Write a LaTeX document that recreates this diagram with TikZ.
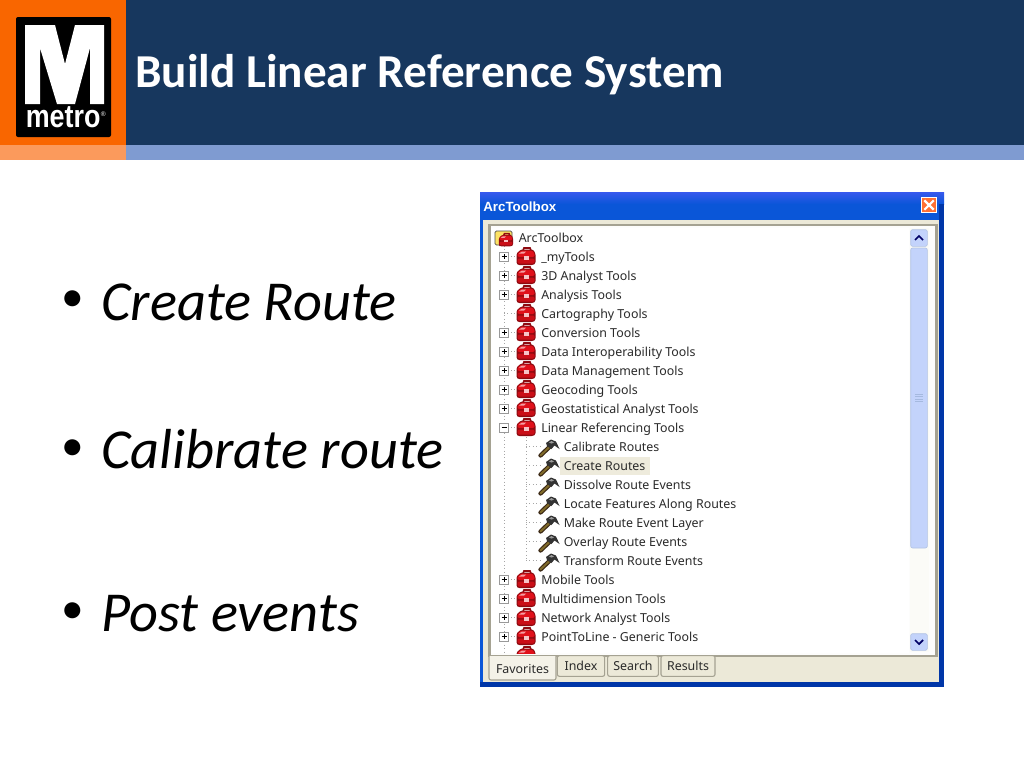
\documentclass[tikz,border=0pt]{standalone}
\usepackage{fontspec}
\usepackage{graphicx}
\usetikzlibrary{calc}
\setmainfont{Carlito}
\newfontfamily\uifont{Noto Sans}
\newfontfamily\logofont{Liberation Sans}
\definecolor{navy}{HTML}{17375E}
\definecolor{orangeM}{HTML}{F96600}
\definecolor{orangeL}{HTML}{FB9A5C}
\definecolor{blueL}{HTML}{7F9BD1}
\definecolor{winblue}{HTML}{0A56D8}
\definecolor{windark}{HTML}{0036A8}
\definecolor{winface}{HTML}{ECE9D8}
\definecolor{frameg}{HTML}{A5A292}
\definecolor{uitext}{HTML}{2A2A2A}
\definecolor{sbar}{HTML}{C3D3FB}
\definecolor{boxred}{HTML}{E0101A}
\definecolor{boxdark}{HTML}{8E0A10}
\definecolor{handlelight}{HTML}{7F6A2A}
\tikzset{
  x=0.75pt,y=-0.75pt,
  bullettext/.style={anchor=base west,inner sep=0pt,font=\fontsize{42.3}{50}\selectfont\itshape,text=black},
  bulletdot/.style={anchor=base west,inner sep=0pt,font=\fontsize{34}{40}\selectfont,text=black},
  treeitem/.style={anchor=west,inner sep=0pt,text height=9.5pt,text depth=2.2pt,font=\uifont\fontsize{9.3}{11}\selectfont,text=uitext},
  expander/.style={draw=gray!80,fill=white,line width=.5pt,minimum size=6.5pt,inner sep=0pt,rectangle},
  treeline/.style={draw=gray!70,dotted,line width=.6pt},
  tabbox/.style={fill=winface,draw=frameg,line width=.8pt,rounded corners=1.5pt},
  tablabel/.style={inner sep=0pt,font=\uifont\fontsize{9.3}{11}\selectfont,text=uitext},
  toolbox/.pic={
    \draw[boxdark,line width=1.2pt] (-3,-6) -- (-2,-8.5) -- (4,-8.5) -- (5,-6);
    \fill[boxdark,rounded corners=1pt] (-9.5,-3) -- (-5,-7) -- (7,-7) -- (9.5,-3) -- (9.5,7) -- (7,8.5) -- (-8,8.5) -- (-9.5,7) -- cycle;
    \fill[boxred,rounded corners=1pt] (-8.5,-3) -- (-4.5,-6) -- (6,-6) -- (8.5,-3) -- (8.5,0.5) -- (-8.5,0.5) -- cycle;
    \fill[boxred!90!black,rounded corners=1pt] (-8.5,2) rectangle (8.5,7);
    \fill[white!60!boxred] (-7,-3) -- (-4,-5) -- (0,-5) -- (-2,-3) -- cycle;
    \fill[white!75!boxred] (-2.5,-0.5) rectangle (2.5,3);
  },
  hammer/.pic={
    \draw[black!70!brown,line width=3.2pt,line cap=round] (-7.5,9) -- (3,-1);
    \draw[handlelight,line width=1.5pt,line cap=round] (-7.5,9) -- (3,-1);
    \fill[black!80] (-2,-3.5) -- (3,-7) -- (8,-5) -- (11.5,2.5) -- (6.5,-1) -- (3.5,2.5) -- (-1,-0.5) -- cycle;
    \fill[black!40] (1,-4) -- (3.5,-5.5) -- (6,-4) -- (3.5,-3) -- cycle;
  },
}
\newcommand{\toprow}[4]{% name, y, text, expander
  \node[treeitem] (t#1) at (541,#2) {#3};
  \coordinate (c#1) at (504,#2);
  \coordinate (i#1) at (518,#2);
  \draw[treeline] (c#1) -- (i#1);
  \pic at (526,#2) {toolbox};
  \ifnum#4=1 \node[expander] (x#1) at (504,#2) {}; \draw[black,line width=.5pt] (501.5,#2) -- (506.5,#2) (504,#2-2.5) -- (504,#2+2.5);
  \else\ifnum#4=2 \node[expander] (x#1) at (504,#2) {}; \draw[black,line width=.5pt] (501.5,#2) -- (506.5,#2);
  \fi\fi
}
\newcommand{\childrow}[3]{% name, y, text
  \node[treeitem] (k#1) at (563.5,#2) {#3};
  \coordinate (d#1) at (526,#2);
  \coordinate (h#1) at (540,#2);
  \draw[treeline] (d#1) -- (h#1);
  \pic at (548,#2) {hammer};
}
\begin{document}
\begin{tikzpicture}
\useasboundingbox (0,0) rectangle (1024,768);
\fill[white] (0,0) rectangle (1024,768);
% header
\fill[navy] (126,0) rectangle (1024,145);
\fill[blueL] (126,145) rectangle (1024,160);
\fill[orangeM] (0,0) rectangle (126,145);
\fill[orangeL] (0,145) rectangle (126,160);
\fill[black,rounded corners=1.5pt] (16,17) rectangle (111,137);
\fill[white] (25,25) -- (55,25) -- (65,64) -- (75,25) -- (104,25) -- (104,104) -- (90,104) -- (90,48) -- (75,104) -- (57,104) -- (40,48) -- (40,104) -- (25,104) -- cycle;
\node[anchor=base west,inner sep=0pt,text=white,font=\logofont\bfseries\fontsize{24}{26}\selectfont] (logotext) at (25.5,127) {\scalebox{.84}[1]{metro}};
\node[anchor=base west,inner sep=0pt,text=white,font=\logofont\fontsize{5}{6}\selectfont] (logomark) at (100.5,116) {®};
\node[anchor=base west,inner sep=0pt,text=white,font=\bfseries\fontsize{35.4}{42}\selectfont] (title) at (135,87) {Build Linear Reference System};
% bullets
\node[bulletdot] (b1) at (61,311) {•};
\node[bullettext] (t1b) at (101,320) {Create Route};
\node[bulletdot] (b2) at (61,460) {•};
\node[bullettext] (t2b) at (101,468) {Calibrate route};
\node[bulletdot] (b3) at (61,623) {•};
\node[bullettext] (t3b) at (101,631) {Post events};
% window
\fill[winblue] (480,192) rectangle (944,687);
\shade[top color=blue!45!winblue!80!white,bottom color=winblue] (480,192) rectangle (944,204);
\fill[windark] (939,204) rectangle (944,687);
\fill[windark] (480,682) rectangle (944,687);
\fill[winface] (483,220) rectangle (939,682);
\fill[frameg] (488,223.5) rectangle (938,657);
\fill[white!92!winface] (490.5,226) rectangle (935,654.5);
\fill[white] (491,228) rectangle (909,653);
% title bar
\node[anchor=base west,inner sep=0pt,text=white,font=\logofont\bfseries\fontsize{10}{12}\selectfont] (wintitle) at (483,211) {ArcToolbox};
\node[fill=orange!60!red!80!white,draw=white,line width=.6pt,minimum size=11pt,inner sep=0pt,rectangle] (closebtn) at (929,205) {};
\draw[white,line width=1.6pt] ($(closebtn.north west)+(3,3)$) -- ($(closebtn.south east)+(-3,-3)$);
\draw[white,line width=1.6pt] ($(closebtn.south west)+(3,-3)$) -- ($(closebtn.north east)+(-3,3)$);
% scrollbar
\fill[white!50!winface!40!white] (910,228) rectangle (929,652);
\node[fill=sbar,draw=blueL!60!white,rounded corners=1.5pt,line width=.5pt,minimum width=12.5pt,minimum height=12.5pt,inner sep=0pt,rectangle] (up) at (919,238) {};
\draw[black!60!blue,line width=1.3pt] (915,240) -- (919,236) -- (923,240);
\node[fill=sbar,draw=blueL!60!white,rounded corners=1.5pt,line width=.5pt,minimum width=12.5pt,minimum height=225pt,inner sep=0pt,rectangle] (thumb) at (919,398) {};
\draw[blueL!70!white,line width=.5pt] (915,394) -- (923,394) (915,396.5) -- (923,396.5) (915,399) -- (923,399) (915,401.5) -- (923,401.5);
\node[fill=sbar,draw=blueL!60!white,rounded corners=1.5pt,line width=.5pt,minimum width=12.5pt,minimum height=12.5pt,inner sep=0pt,rectangle] (down) at (919,642) {};
\draw[black!60!blue,line width=1.3pt] (915,640) -- (919,644) -- (923,640);
% highlight
\fill[winface!90!white] (560,457) rectangle (650,474.5);
% tree lines
\coordinate (vtop) at (504,246);
\coordinate (vbot) at (504,653);
\draw[treeline] (vtop) -- (vbot);
\coordinate (wtop) at (526,437);
\coordinate (wbot) at (526,561);
\draw[treeline] (wtop) -- (wbot);
% root
\fill[yellow!70!orange!60!white,draw=black!70,line width=.5pt,rounded corners=1pt] (495,231) rectangle (512,245);
\pic[scale=.75] at (506,240) {toolbox};
\node[treeitem] (root) at (518.5,237.5) {ArcToolbox};
% rows
\toprow{a}{256.5}{\_myTools}{1}
\toprow{b}{275.5}{3D Analyst Tools}{1}
\toprow{c}{294.5}{Analysis Tools}{1}
\toprow{d}{313.5}{Cartography Tools}{0}
\toprow{e}{332.5}{Conversion Tools}{1}
\toprow{f}{351.5}{Data Interoperability Tools}{1}
\toprow{g}{370.5}{Data Management Tools}{1}
\toprow{h}{389.5}{Geocoding Tools}{1}
\toprow{i}{408.5}{Geostatistical Analyst Tools}{1}
\toprow{j}{427.5}{Linear Referencing Tools}{2}
\childrow{a}{446.5}{Calibrate Routes}
\childrow{b}{465.5}{Create Routes}
\childrow{c}{484.5}{Dissolve Route Events}
\childrow{d}{503.5}{Locate Features Along Routes}
\childrow{e}{522.5}{Make Route Event Layer}
\childrow{f}{541.5}{Overlay Route Events}
\childrow{g}{560.5}{Transform Route Events}
\toprow{k}{579.5}{Mobile Tools}{1}
\toprow{l}{598.5}{Multidimension Tools}{1}
\toprow{m}{617.5}{Network Analyst Tools}{1}
\toprow{n}{636.5}{PointToLine - Generic Tools}{1}
\begin{scope}
\clip (491,640) rectangle (909,653);
\pic at (526,655.5) {toolbox};
\end{scope}
% tabs
\node[tabbox,minimum width=35.5pt,minimum height=15.5pt,inner sep=0pt] (tabI) at (581,666) {};
\node[tablabel] at (tabI) {Index};
\node[tabbox,minimum width=38pt,minimum height=15.5pt,inner sep=0pt] (tabS) at (633,666) {};
\node[tablabel] at (tabS) {Search};
\node[tabbox,minimum width=40.5pt,minimum height=15.5pt,inner sep=0pt] (tabR) at (688,666) {};
\node[tablabel] at (tabR) {Results};
\fill[winface!60!white,draw=frameg,line width=.8pt,rounded corners=1.5pt] (489,656) -- (489,680) -- (556,680) -- (556,656);
\node[tablabel] (tabF) at (522.5,669) {Favorites};
\end{tikzpicture}
\end{document}
